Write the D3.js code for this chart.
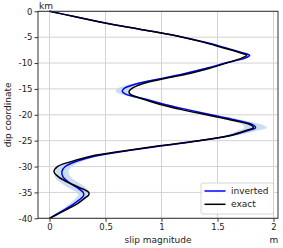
<!DOCTYPE html>
<html>
<head>
<meta charset="utf-8">
<script src="https://cdn.jsdelivr.net/npm/d3@7"></script>
<style>
  body { margin: 0; background: #fff; }
  svg { display: block; font-family: "DejaVu Sans", sans-serif; }
</style>
</head>
<body>
<svg id="vis"></svg>
<script>
// depth along dip (km) and slip (m)
var depth = [0, -1, -2, -3, -4, -5, -6, -7, -8, -8.5, -9, -10, -11, -12, -13, -14, -15, -15.5, -16, -17,
             -18, -19, -20, -21, -22, -22.5, -23, -24, -25, -26, -27, -28, -29, -30, -31, -32, -33, -34,
             -35, -35.5, -36, -37, -38, -39, -40];
var exactSlip = [0, 0.22, 0.44, 0.68, 0.95, 1.19, 1.38, 1.54, 1.70, 1.76, 1.72, 1.58, 1.43, 1.25, 1.03, 0.83, 0.73, 0.71, 0.72, 0.84,
                 0.99, 1.18, 1.40, 1.62, 1.80, 1.82, 1.76, 1.61, 1.33, 0.98, 0.66, 0.37, 0.20, 0.07, 0.04, 0.08, 0.16, 0.26,
                 0.35, 0.35, 0.32, 0.26, 0.18, 0.09, 0];
var invertedSlip = [0, 0.22, 0.44, 0.68, 0.95, 1.19, 1.39, 1.56, 1.72, 1.785, 1.75, 1.57, 1.40, 1.21, 1.00, 0.78, 0.66, 0.65, 0.68, 0.86,
                    1.03, 1.23, 1.44, 1.66, 1.82, 1.84, 1.78, 1.62, 1.34, 1.00, 0.68, 0.40, 0.24, 0.14, 0.11, 0.12, 0.17, 0.24,
                    0.30, 0.305, 0.29, 0.23, 0.16, 0.08, 0];
var slipStd = [0.005, 0.008, 0.01, 0.01, 0.01, 0.01, 0.01, 0.012, 0.015, 0.02, 0.02, 0.02, 0.02, 0.02, 0.025, 0.04, 0.06, 0.06, 0.05, 0.035,
               0.03, 0.03, 0.04, 0.06, 0.09, 0.10, 0.09, 0.05, 0.03, 0.03, 0.03, 0.04, 0.05, 0.06, 0.06, 0.07, 0.08, 0.08,
               0.06, 0.05, 0.05, 0.04, 0.03, 0.02, 0.01];
var xTicks = [0, 0.5, 1, 1.5, 2];
var yTicks = [0, -5, -10, -15, -20, -25, -30, -35, -40];
var seriesNames = ["inverted", "exact"];
var seriesColours = ["#0000ff", "#000000"];

var width = 283, height = 248;
var svg = d3.select("#vis").attr("width", width).attr("height", height);

var plotLeft = 38, plotRight = 278, plotTop = 11.3, plotBottom = 218.3;
var x = d3.scaleLinear().domain([-0.103, 2.04]).range([plotLeft, plotRight]);
var y = d3.scaleLinear().domain([-40, 0]).range([plotBottom, plotTop]);

var rows = depth.map(function(d, i) {
    return {d: d, exact: exactSlip[i], inv: invertedSlip[i], s: slipStd[i]};
});

// grid
var grid = svg.append("g");
grid.selectAll(".gx").data(xTicks).enter().append("line")
    .attr("x1", function(d) { return x(d); }).attr("x2", function(d) { return x(d); })
    .attr("y1", plotTop).attr("y2", plotBottom)
    .attr("stroke", "#d3d3d3").attr("stroke-width", 1);
grid.selectAll(".gy").data(yTicks).enter().append("line")
    .attr("x1", plotLeft).attr("x2", plotRight)
    .attr("y1", function(d) { return y(d); }).attr("y2", function(d) { return y(d); })
    .attr("stroke", "#d3d3d3").attr("stroke-width", 1);

// uncertainty band
var band = d3.area()
    .x0(function(r) { return x(r.inv - r.s); })
    .x1(function(r) { return x(r.inv + r.s); })
    .y(function(r) { return y(r.d); })
    .curve(d3.curveCatmullRom);
svg.append("path").datum(rows).attr("d", band)
    .attr("fill", "#bcd6ea").attr("opacity", 0.8);

var lineInv = d3.line().x(function(r) { return x(r.inv); }).y(function(r) { return y(r.d); }).curve(d3.curveCatmullRom);
var lineExact = d3.line().x(function(r) { return x(r.exact); }).y(function(r) { return y(r.d); }).curve(d3.curveCatmullRom);
svg.append("path").datum(rows).attr("d", lineInv)
    .attr("fill", "none").attr("stroke", seriesColours[0]).attr("stroke-width", 1.5);
svg.append("path").datum(rows).attr("d", lineExact)
    .attr("fill", "none").attr("stroke", seriesColours[1]).attr("stroke-width", 1.5);

// axes
var xAxis = svg.append("g").attr("transform", "translate(0," + plotBottom + ")")
    .call(d3.axisBottom(x).tickValues(xTicks).tickSize(3.5).tickPadding(2).tickFormat(d3.format("")));
var yAxis = svg.append("g").attr("transform", "translate(" + plotLeft + ",0)")
    .call(d3.axisLeft(y).tickValues(yTicks).tickSize(3.5).tickPadding(2).tickFormat(function(d) { return String(d); }));
[xAxis, yAxis].forEach(function(a) {
    a.select(".domain").remove();
    a.selectAll("line").attr("stroke", "#333");
    a.selectAll("text").attr("font-size", 8.5).attr("fill", "#222").attr("font-family", "DejaVu Sans");
});

svg.append("rect").attr("x", plotLeft).attr("y", plotTop)
    .attr("width", plotRight - plotLeft).attr("height", plotBottom - plotTop)
    .attr("fill", "none").attr("stroke", "#333").attr("stroke-width", 1);

svg.append("text").attr("x", 39).attr("y", 8.5).attr("font-size", 9).attr("fill", "#222").text("km");
svg.append("text").attr("x", 158).attr("y", 243).attr("text-anchor", "middle")
    .attr("font-size", 9).attr("fill", "#222").text("slip magnitude");
svg.append("text").attr("x", 274).attr("y", 243).attr("text-anchor", "middle")
    .attr("font-size", 9).attr("fill", "#222").text("m");
svg.append("text").attr("transform", "translate(11," + ((plotTop + plotBottom) / 2) + ") rotate(-90)")
    .attr("text-anchor", "middle").attr("font-size", 9).attr("fill", "#222").text("dip coordinate");

// legend
var legend = svg.append("g").attr("transform", "translate(201,183)");
legend.append("rect").attr("width", 72.5).attr("height", 31).attr("rx", 2)
    .attr("fill", "#fff").attr("fill-opacity", 0.85).attr("stroke", "#ccc").attr("stroke-width", 0.8);
seriesNames.forEach(function(name, i) {
    var ly = 8 + i * 13.3;
    legend.append("line").attr("x1", 3.5).attr("x2", 24.5).attr("y1", ly).attr("y2", ly)
        .attr("stroke", seriesColours[i]).attr("stroke-width", 1.5);
    legend.append("text").attr("x", 30).attr("y", ly).attr("dy", "0.35em")
        .attr("font-size", 9).attr("fill", "#222").text(name);
});
</script>
</body>
</html>
